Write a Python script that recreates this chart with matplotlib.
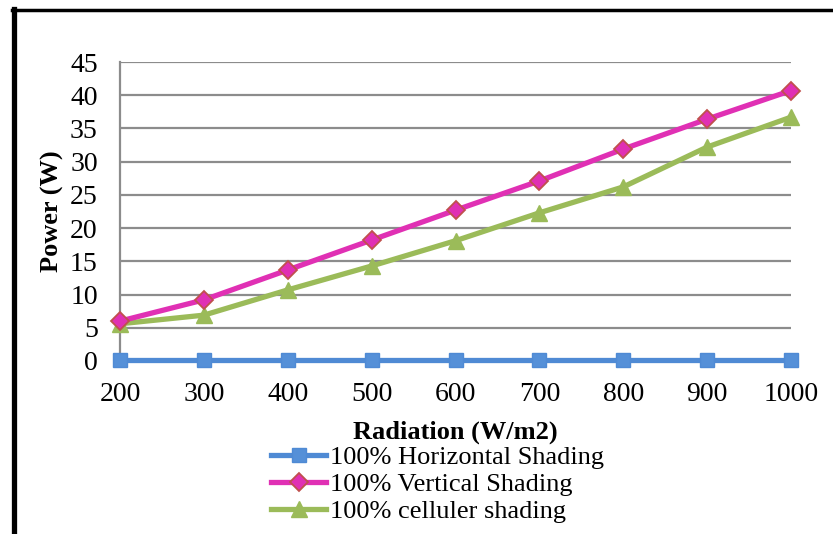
import numpy as np
import matplotlib.pyplot as plt
from matplotlib.lines import Line2D

radiation = [200, 300, 400, 500, 600, 700, 800, 900, 1000]
horizontal = [0.1, 0.1, 0.1, 0.1, 0.1, 0.1, 0.1, 0.1, 0.1]
vertical = [6.0, 9.2, 13.7, 18.2, 22.7, 27.1, 31.9, 36.4, 40.7]
celluler = [5.6, 6.9, 10.7, 14.3, 18.1, 22.3, 26.2, 32.2, 36.7]

plt.rcParams['font.family'] = ['Liberation Serif', 'DejaVu Serif']

fig = plt.figure(figsize=(8.33, 5.34), dpi=100)
ax = fig.add_axes([120/833, 1 - 361/534, (791-120)/833, (361-62)/534])

# outer frame (only left and top visible in the reference)
fig.add_artist(Line2D([13.5/833, 13.5/833], [0, 1 - 9/534], color='black', lw=3.8,
                      transform=fig.transFigure))
fig.add_artist(Line2D([11.5/833, 1], [1 - 9.5/534, 1 - 9.5/534], color='black', lw=2.5,
                      transform=fig.transFigure))

ax.plot(radiation, horizontal, color='#4F8AD4', lw=3.8, marker='s', ms=10.5,
        mfc='#5590D8', mec='#4F8AD4', label='100% Horizontal Shading', clip_on=False, zorder=3)
ax.plot(radiation, vertical, color='#E030B4', lw=3.8, marker='D', ms=9,
        mfc='#E030B4', mec='#C0504D', mew=1.3, label='100% Vertical Shading', clip_on=False, zorder=4)
ax.plot(radiation, celluler, color='#9BBB59', lw=3.8, marker='^', ms=11.5,
        mfc='#9BBB59', mec='#9BBB59', label='100% celluler shading', clip_on=False, zorder=3)

ax.set_xlim(200, 1000)
ax.set_ylim(0, 45)
ax.set_xticks(radiation)
ax.set_yticks(np.arange(0, 46, 5))
ax.yaxis.grid(True, color='#8C8C8C', lw=1.6)
ax.set_axisbelow(True)
for s in ['top', 'right', 'bottom']:
    ax.spines[s].set_visible(False)
ax.spines['left'].set_color('#8C8C8C')
ax.spines['left'].set_linewidth(1.6)
ax.tick_params(length=0, labelsize=20)
ax.tick_params(axis='y', pad=16)
ax.tick_params(axis='x', pad=15)

ax.set_ylabel('Power (W)', fontsize=19, fontweight='bold', labelpad=4)
ax.set_xlabel('Radiation (W/m2)', fontsize=19, fontweight='bold', labelpad=10)

fig.legend(*ax.get_legend_handles_labels(), loc='upper left',
           bbox_to_anchor=(271/833, 1 - 446/534), frameon=False, fontsize=19,
           handlelength=2.1, handletextpad=0.15, labelspacing=0.12, borderpad=0,
           borderaxespad=0)

fig.savefig('out.png', dpi=100)
